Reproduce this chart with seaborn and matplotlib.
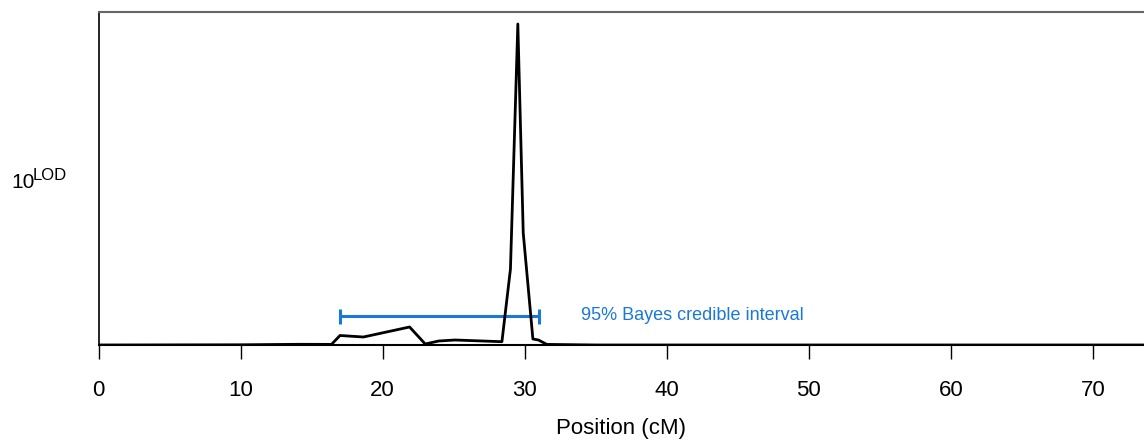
import numpy as np
import pandas as pd
import matplotlib
matplotlib.use("Agg")
import matplotlib.pyplot as plt
import seaborn as sns

# posterior curve (position in cM, height in plot units)
pos_cm = [0.0, 10.0, 14.2, 16.4, 17.0, 18.65, 21.9, 23.0, 23.95, 25.1, 28.4,
          29.0, 29.52, 29.9, 30.58, 30.97, 31.56, 35.0, 73.6]
height = [0.0, 0.2, 0.7, 0.6, 9.5, 8.0, 18.0, 1.0, 4.0, 5.0, 3.3,
          76.0, 321.0, 112.0, 6.0, 5.0, 0.6, 0.0, 0.0]

ci_low, ci_high = 17.0, 31.0
ci_label = "95% Bayes credible interval"
x_ticks = [0, 10, 20, 30, 40, 50, 60, 70]

sns.set_theme(style="white")
plt.rcParams['font.family'] = ['Liberation Sans', 'DejaVu Sans']
plt.rcParams['text.color'] = 'black'
plt.rcParams['axes.labelcolor'] = 'black'
plt.rcParams['xtick.color'] = 'black'

df = pd.DataFrame({'pos': pos_cm, 'h': height})

fig = plt.figure(figsize=(11.44, 4.42), dpi=100)
ax = fig.add_axes([98.5 / 1144, 1 - 345 / 442, 1 - 98.5 / 1144, (345 - 12) / 442])

sns.lineplot(data=df, x='pos', y='h', ax=ax, color='black', linewidth=2.0,
             sort=False, zorder=3)

blue = '#1a78d6'
ax.errorbar((ci_low + ci_high) / 2, 29.5, xerr=(ci_high - ci_low) / 2,
            fmt='none', ecolor=blue, elinewidth=2.2, capsize=5.4, capthick=2.2)
ax.text(34.0, 29.5, ci_label, color=blue, fontsize=13, va='center', ha='left')

ax.set_xlim(0, 73.6)
ax.set_ylim(0, 333)
ax.set_xticks(x_ticks)
ax.set_yticks([])
ax.tick_params(axis='x', length=10, width=1, colors='black', direction='out',
               labelsize=16, pad=15, bottom=True)
ax.set_xlabel("Position (cM)", fontsize=16, labelpad=12.5, color='black')
ax.set_ylabel("")

ax.spines['right'].set_visible(False)
ax.spines['top'].set_color('#666666')
ax.spines['top'].set_linewidth(1.5)
ax.spines['left'].set_color('black')
ax.spines['left'].set_linewidth(1.2)
ax.spines['bottom'].set_color('black')
ax.spines['bottom'].set_linewidth(1.5)

fig.text(11 / 1144, 1 - 182 / 442, "10", fontsize=15, ha='left', va='center',
         color='black')
fig.text(33 / 1144, 1 - 176 / 442, "LOD", fontsize=12, ha='left', va='center',
         color='black')

fig.savefig("out.png", dpi=100)
